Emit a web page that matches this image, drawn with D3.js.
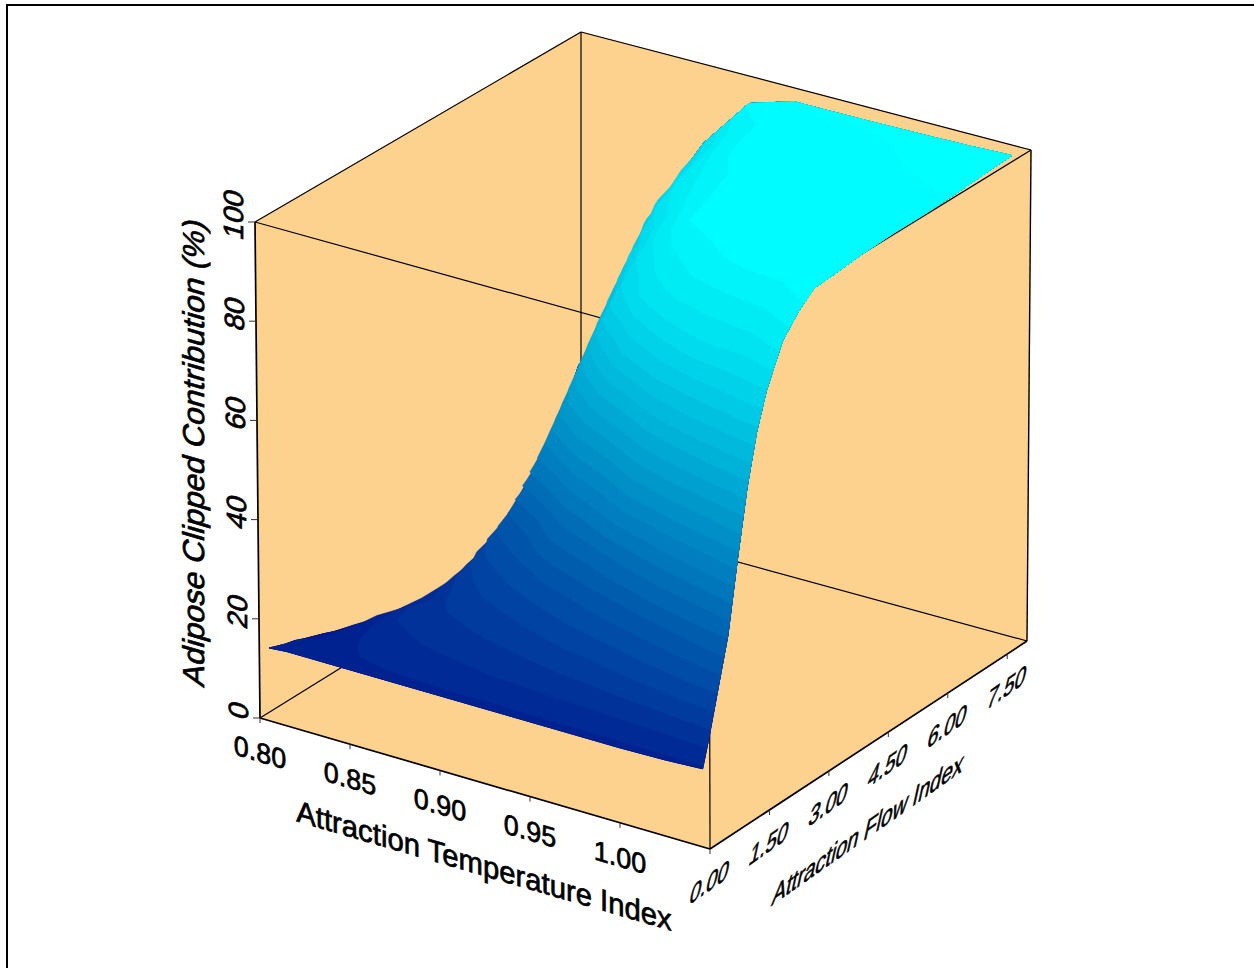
<!DOCTYPE html>
<html><head><meta charset="utf-8">
<script src="https://cdn.jsdelivr.net/npm/d3@7/dist/d3.min.js"></script>
<style>html,body{margin:0;padding:0;background:#fff}svg{display:block}text{font-family:"Liberation Sans",Arial,sans-serif;fill:#000}</style>
</head><body><svg id="c" width="1254" height="968"></svg>
<script>
const tempTicks=[0.80,0.85,0.90,0.95,1.00];
const flowTicks=[0,1.5,3,4.5,6,7.5];
const zTicks=[0,20,40,60,80,100];
const tempDomain=[0.80,1.05], flowDomain=[0,8], zDomain=[0,100];
const tempTitle="Attraction Temperature Index", flowTitle="Attraction Flow Index", zTitle="Adipose Clipped Contribution (%)";
// surface samples: temperature columns, flow rows, and z per row
const tempGrid=[0.8055,0.815,0.83,0.85,0.875,0.90,0.925,0.95,0.975,1.00,1.025,1.046];
const flowGrid=[0,0.16,0.4,0.64,0.88,1.12,1.36,1.6,2,2.4,2.8,3.2,4,4.8,5.6,6.4,7.2,7.7];
const zGrid=[
[14.7,15,15,15,15,15,15,15,15,15,15.2,15.6],
[14.2,14.5,14.8,15.5,16.3,17,17.5,17.7,18,18.5,19.5,21],
[13.5,14,14.5,16.4,17.7,18.5,19.5,20.5,21.5,23.5,27,30],
[13,13.5,14.5,17.4,19,20,21.5,23.2,25,29,33.5,39],
[12.2,13,14.6,18.2,20,21.8,23.6,26.2,29.5,34,43,53],
[11.5,12.8,14.8,19,21.2,23.4,26,29.8,34,44.5,56.5,66],
[10.8,12.5,15,19.5,22.5,25,29,33.4,43,59,70,76],
[10,12,15,19.8,23.5,27.5,32.5,40,59,72,79,83],
[9,11.5,15,19,25.8,32,42,58,77.5,86,87.5,91],
[8,10,14,20,30,37,59,77.5,88,90.5,91.5,95],
[7,9,13.5,21,34.5,54,71,87,92,94,95,97.8],
[6.4,8,13,22,37,60,81,90,95,97,97.3,98],
[5,8,14.5,26,47,71,88,96,97.6,98.3,98.5,98.7],
[6,10,18,33,58,81,92,97.5,98.3,98.8,99,99],
[9.5,15,23,44,69,88.5,94.5,98,98.6,99,99,99],
[15,22,33,55,79,91,97,98.5,98.8,99,99.2,99.3],
[24,34,45,65,83.5,93,97.8,98.9,99,99.3,99.6,99.8],
[33.6,40,55,71,86,96.5,99.3,99.3,99.4,99.5,99.7,100]
];
const bandStep=3.2;
const wallColor="#FDD18E";
// projection: eight screen corners of the plot box [temp][flow][z]
const corners={
 "000":[260,718],"100":[710,849],"010":[581,519],"110":[1027,641],
 "001":[255,222],"101":[709,348],"011":[581,32],"111":[1031,150]};
const C=(a,b,c)=>corners[""+a+b+c];
const uS=d3.scaleLinear().domain(tempDomain).range([0,1]);
const vS=d3.scaleLinear().domain(flowDomain).range([0,1]);
const wS=d3.scaleLinear().domain(zDomain).range([0,1]);
function proj(t,f,z){
 const u=uS(t),v=vS(f),w=wS(z);
 return [0,1].map(k=>{
  const a=[0,1].map(c=>{
   const p=C(0,0,c),q=C(1,0,c),r=C(0,1,c),s=C(1,1,c);
   const near=[p[0]+(q[0]-p[0])*u,p[1]+(q[1]-p[1])*u];
   const far=[r[0]+(s[0]-r[0])*u,r[1]+(s[1]-r[1])*u];
   return [near[0]+(far[0]-near[0])*v,near[1]+(far[1]-near[1])*v];
  });
  return a[0][k]+(a[1][k]-a[0][k])*w;
 });
}
const svg=d3.select("#c");
svg.append("rect").attr("width",1254).attr("height",968).attr("fill","#fff");
// frame
svg.append("path").attr("d","M7,968V5H1254").attr("fill","none").attr("stroke","#000").attr("stroke-width",2);
const tMin=tempDomain[0],tMax=tempDomain[1],fMin=flowDomain[0],fMax=flowDomain[1],zMin=zDomain[0],zMax=zDomain[1];
const P=(t,f,z)=>proj(t,f,z);
const line=d3.line();
// walls
const wallSets=[
 [[tMin,fMin,zMax],[tMin,fMax,zMax],[tMin,fMax,zMin],[tMin,fMin,zMin]],
 [[tMin,fMax,zMax],[tMax,fMax,zMax],[tMax,fMax,zMin],[tMin,fMax,zMin]],
 [[tMin,fMin,zMin],[tMin,fMax,zMin],[tMax,fMax,zMin],[tMax,fMin,zMin]],
 [[tMin,fMin,zMin],[tMax,fMin,zMin],[tMax,fMin,zMax],[tMin,fMin,zMax]],
 [[tMax,fMin,zMin],[tMax,fMax,zMin],[tMax,fMax,zMax],[tMax,fMin,zMax]],
 [[tMin,fMin,zMax],[tMax,fMin,zMax],[tMax,fMax,zMax],[tMin,fMax,zMax]]
];
svg.append("g").selectAll("path").data(wallSets).join("path")
 .attr("d",d=>line(d.map(p=>P(...p)))+"Z").attr("fill",wallColor).attr("stroke",wallColor).attr("stroke-width",.6);
// box edges
const edges=[
 [[tMin,fMin,zMin],[tMin,fMin,zMax],1.7],[[tMax,fMin,zMin],[tMax,fMin,zMax],1.2],
 [[tMax,fMax,zMin],[tMax,fMax,zMax],1.4],[[tMin,fMax,zMin],[tMin,fMax,zMax],1.2],
 [[tMin,fMin,zMin],[tMax,fMin,zMin],1.7],[[tMax,fMin,zMin],[tMax,fMax,zMin],1.7],
 [[tMin,fMin,zMin],[tMin,fMax,zMin],1.2],[[tMin,fMax,zMin],[tMax,fMax,zMin],1.2],
 [[tMin,fMin,zMax],[tMax,fMin,zMax],1.2],[[tMax,fMin,zMax],[tMax,fMax,zMax],1.2],
 [[tMin,fMin,zMax],[tMin,fMax,zMax],1.2],[[tMin,fMax,zMax],[tMax,fMax,zMax],1.2]
];
svg.append("g").selectAll("path").data(edges).join("path")
 .attr("d",d=>line(d.slice(0,2).map(p=>P(...p)))).attr("fill","none").attr("stroke","#000").attr("stroke-width",d=>d[2]);
// surface bands via d3.contours on the z grid
const nx=tempGrid.length,ny=flowGrid.length;
const flat=zGrid.flat();
const iT=d3.scaleLinear().domain(d3.range(nx)).range(tempGrid);
const iF=d3.scaleLinear().domain(d3.range(ny)).range(flowGrid);
const zAt=(i,j)=>{
 const i0=Math.min(nx-2,Math.floor(i)),j0=Math.min(ny-2,Math.floor(j)),a=i-i0,b=j-j0;
 const g=(x,y)=>zGrid[y][x];
 return (g(i0,j0)*(1-a)+g(i0+1,j0)*a)*(1-b)+(g(i0,j0+1)*(1-a)+g(i0+1,j0+1)*a)*b;
};
const thresholds=d3.range(0,100,bandStep);
const color=d3.scaleLinear().domain([0,97]).range(["#000080","#00ffff"]).clamp(true);
const conts=d3.contours().size([nx,ny]).thresholds(thresholds)(flat);
const toScreen=pt=>{
 const i=Math.max(0,Math.min(nx-1,pt[0]-.5)),j=Math.max(0,Math.min(ny-1,pt[1]-.5));
 return P(iT(i),iF(j),zAt(i,j));
};
svg.append("g").selectAll("path").data(conts.filter(c=>c.coordinates.length)).join("path")
 .attr("d",c=>c.coordinates.map(poly=>poly.map(r=>line(r.map(toScreen))+"Z").join("")).join(""))
 .attr("fill",c=>color(c.value)).attr("stroke",c=>color(c.value)).attr("stroke-width",.5).attr("fill-rule","evenodd");
// ticks
const tickLen=5;
const tk=svg.append("g").attr("stroke","#333").attr("stroke-width",1);
tempTicks.forEach(t=>{const p=P(t,fMin,zMin);tk.append("line").attr("x1",p[0]).attr("y1",p[1]).attr("x2",p[0]).attr("y2",p[1]+tickLen);});
flowTicks.forEach(f=>{const p=P(tMax,f,zMin);tk.append("line").attr("x1",p[0]).attr("y1",p[1]).attr("x2",p[0]).attr("y2",p[1]+tickLen);});
zTicks.forEach(z=>{const p=P(tMin,fMin,z);tk.append("line").attr("x1",p[0]).attr("y1",p[1]).attr("x2",p[0]-7).attr("y2",p[1]);});
// labels
const fmt2=d3.format(".2f");
function txt(s,x,y,m,size){
 svg.append("text").text(s).attr("text-anchor","middle").attr("font-size",size)
  .attr("transform",`matrix(${m[0]},${m[1]},${m[2]},${m[3]},${x},${y})`).attr("stroke","#000").attr("stroke-width",.7);
}
const mX=[.96,.28,0,1], mF=[.68,-.48,-.22,1], mZ=[0,-1,.96,.28];
tempTicks.forEach(t=>{const p=P(t,fMin,zMin);txt(fmt2(t),p[0],p[1]+44,mX,28);});
flowTicks.forEach(f=>{const p=P(tMax,f,zMin);txt(fmt2(f),p[0]-2.5,p[1]+43,mF,29);});
zTicks.forEach(z=>{const p=P(tMin,fMin,z);txt(d3.format("d")(z),p[0]-12,p[1]-5,mZ,29);});
txt(tempTitle,484,876,mX,30.5);
txt(flowTitle,866,839,mF,30);
txt(zTitle,204,455,mZ,31.5);
</script></body></html>
